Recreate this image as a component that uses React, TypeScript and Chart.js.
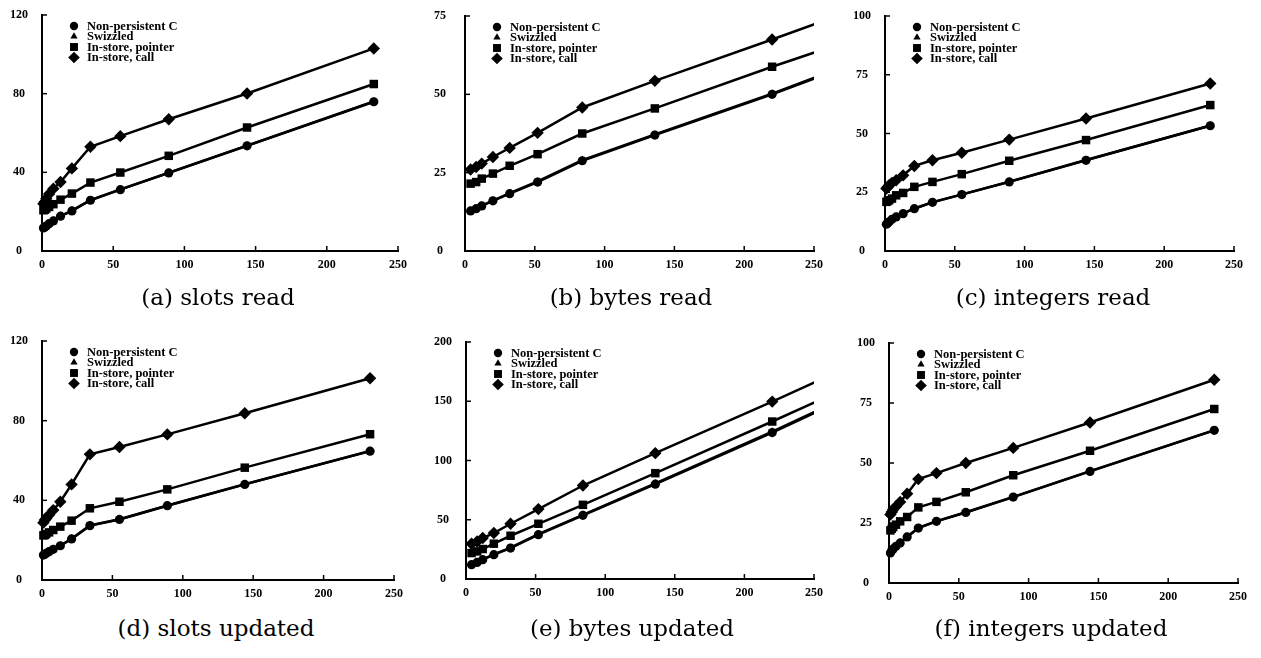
import React, { useEffect, useRef } from 'react';
import { Chart, registerables } from 'chart.js';
import { drawPoint } from 'chart.js/helpers';

Chart.register(...registerables);

// ---------- data ----------
const SERIES_LABELS = ['Non-persistent C', 'Swizzled', 'In-store, pointer', 'In-store, call'];
const POINT_STYLES = ['circle', 'triangle', 'rect', 'rectRot'];
const CAPTIONS = ['(a) slots read', '(b) bytes read', '(c) integers read', '(d) slots updated', '(e) bytes updated', '(f) integers updated'];

const SLOT_X = [1, 2, 3, 5, 8, 13, 21, 34, 55, 89, 144, 233];
const BYTE_X = [4, 8, 12, 20, 32, 52, 84, 136, 220, 356];
const X_TICKS = [0, 50, 100, 150, 200, 250];

// (a) slots read
const slotsReadNonPersistent = [11.7, 12.2, 12.7, 13.9, 15.3, 17.7, 20.4, 25.8, 31.2, 39.7, 53.5, 75.9];
const slotsReadSwizzled = [11.8, 12.3, 12.8, 14.0, 15.4, 17.8, 20.5, 25.9, 31.3, 39.8, 53.6, 76.0];
const slotsReadPointer = [20.7, 21.0, 21.6, 22.4, 23.8, 26.1, 29.2, 34.8, 39.9, 48.4, 62.8, 84.9];
const slotsReadCall = [24.0, 25.0, 26.6, 29.0, 31.7, 35.1, 42.0, 53.0, 58.4, 67.0, 80.1, 103.0];

// (b) bytes read
const bytesReadNonPersistent = [12.8, 13.5, 14.4, 16.0, 18.3, 22.0, 28.8, 37.0, 50.0, 72.7];
const bytesReadSwizzled = [12.9, 13.6, 14.5, 16.1, 18.5, 22.2, 29.0, 37.2, 50.2, 73.0];
const bytesReadPointer = [21.5, 22.0, 23.1, 24.7, 27.2, 30.9, 37.5, 45.5, 58.8, 79.2];
const bytesReadCall = [26.0, 26.8, 27.9, 30.0, 32.9, 37.7, 45.8, 54.3, 67.5, 89.3];

// (c) integers read
const intsReadNonPersistent = [11.4, 11.9, 12.4, 13.5, 14.5, 15.9, 18.0, 20.7, 24.0, 29.4, 38.6, 53.3];
const intsReadSwizzled = [11.5, 12.0, 12.5, 13.6, 14.6, 16.0, 18.1, 20.8, 24.1, 29.5, 38.7, 53.4];
const intsReadPointer = [20.9, 21.3, 21.6, 22.3, 23.7, 24.7, 27.3, 29.4, 32.7, 38.4, 47.2, 62.1];
const intsReadCall = [26.6, 27.3, 28.0, 29.0, 30.1, 32.2, 36.2, 38.6, 41.8, 47.4, 56.4, 71.3];

// (d) slots updated
const slotsUpdNonPersistent = [12.5, 12.9, 13.4, 14.2, 15.4, 17.2, 20.6, 27.3, 30.4, 37.3, 48.0, 64.7];
const slotsUpdSwizzled = [12.6, 13.0, 13.5, 14.3, 15.5, 17.3, 20.7, 27.4, 30.5, 37.4, 48.1, 64.8];
const slotsUpdPointer = [22.4, 22.6, 23.1, 23.9, 25.1, 26.8, 29.8, 36.0, 39.3, 45.5, 56.4, 73.2];
const slotsUpdCall = [28.8, 30.1, 30.9, 32.6, 35.1, 39.3, 48.0, 63.1, 66.8, 73.1, 83.7, 101.3];

// (e) bytes updated
const bytesUpdNonPersistent = [12.1, 14.0, 16.3, 20.5, 26.1, 37.4, 53.7, 80.0, 123.6, 197.5];
const bytesUpdSwizzled = [12.3, 14.2, 16.5, 20.8, 26.4, 37.8, 54.2, 80.6, 124.4, 198.6];
const bytesUpdPointer = [21.9, 23.3, 25.3, 29.8, 36.5, 46.6, 62.6, 89.3, 132.9, 205.4];
const bytesUpdCall = [29.8, 31.7, 34.6, 38.8, 46.6, 59.0, 78.9, 106.2, 149.7, 222.2];

// (f) integers updated
const intsUpdNonPersistent = [12.5, 13.5, 14.2, 15.3, 16.7, 19.2, 22.9, 25.7, 29.4, 35.8, 46.5, 63.6];
const intsUpdSwizzled = [12.6, 13.6, 14.3, 15.4, 16.8, 19.3, 23.0, 25.8, 29.5, 35.9, 46.6, 63.7];
const intsUpdPointer = [21.9, 22.6, 23.3, 24.3, 25.7, 27.5, 31.5, 33.8, 37.8, 44.9, 55.1, 72.5];
const intsUpdCall = [28.5, 29.6, 30.6, 31.9, 33.8, 37.2, 43.3, 45.8, 50.0, 56.3, 66.9, 84.7];

const Y_MAX = [120, 75, 100, 120, 200, 100];
const Y_STEP = [40, 25, 25, 40, 50, 25];

// ---------- layout (plot area in page pixels) ----------
const PANELS = [
  { L: 42, R: 398, T: 15, B: 251 },
  { L: 465, R: 814, T: 16, B: 251 },
  { L: 885, R: 1234, T: 16, B: 251 },
  { L: 42, R: 394, T: 341, B: 580 },
  { L: 466, R: 814, T: 342, B: 579 },
  { L: 889, R: 1238, T: 343, B: 583 },
];
const CAPTION_POS = [
  { cx: 218, cy: 297 },
  { cx: 631, cy: 297 },
  { cx: 1053, cy: 297 },
  { cx: 216, cy: 628 },
  { cx: 632, cy: 628 },
  { cx: 1051, cy: 628 },
];

const PANEL_DATA = [
  { xs: SLOT_X, series: [slotsReadNonPersistent, slotsReadSwizzled, slotsReadPointer, slotsReadCall] },
  { xs: BYTE_X, series: [bytesReadNonPersistent, bytesReadSwizzled, bytesReadPointer, bytesReadCall] },
  { xs: SLOT_X, series: [intsReadNonPersistent, intsReadSwizzled, intsReadPointer, intsReadCall] },
  { xs: SLOT_X, series: [slotsUpdNonPersistent, slotsUpdSwizzled, slotsUpdPointer, slotsUpdCall] },
  { xs: BYTE_X, series: [bytesUpdNonPersistent, bytesUpdSwizzled, bytesUpdPointer, bytesUpdCall] },
  { xs: SLOT_X, series: [intsUpdNonPersistent, intsUpdSwizzled, intsUpdPointer, intsUpdCall] },
];

const PAD_L = 45;
const PAD_T = 32;
const PAD_R = 24;
const PAD_B = 32;
const POINT_RADII = [4.6, 4.4, 6.0, 6.2];
const LEGEND_RADII = [4.2, 4.2, 5.6, 5.8];
const TICK_FONT = { family: '"Liberation Serif", serif', size: 12, weight: 'bold' as const };
const LEGEND_FONT = 'bold 12.5px "Liberation Serif", serif';

const insideLegendAndTicks = {
  id: 'insideLegendAndTicks',
  afterDraw(chart: any) {
    const { ctx, chartArea, scales } = chart;
    ctx.save();
    // inward tick marks
    ctx.strokeStyle = '#000';
    ctx.lineWidth = 1.5;
    const ys = scales.y;
    ys.ticks.forEach((_t: any, i: number) => {
      const y = ys.getPixelForTick(i);
      ctx.beginPath();
      ctx.moveTo(chartArea.left, y);
      ctx.lineTo(chartArea.left + 5, y);
      ctx.stroke();
    });
    const xs = scales.x;
    xs.ticks.forEach((_t: any, i: number) => {
      const x = xs.getPixelForTick(i);
      ctx.beginPath();
      ctx.moveTo(x, chartArea.bottom);
      ctx.lineTo(x, chartArea.bottom - 5);
      ctx.stroke();
    });
    // legend
    ctx.fillStyle = '#000';
    ctx.font = LEGEND_FONT;
    ctx.textBaseline = 'middle';
    ctx.textAlign = 'left';
    chart.data.datasets.forEach((ds: any, i: number) => {
      const y = chartArea.top + 11 + i * 10.5;
      const x = chartArea.left + 32;
      ctx.fillStyle = '#000';
      drawPoint(ctx, { pointStyle: ds.pointStyle, radius: LEGEND_RADII[i], rotation: 0, borderWidth: 0 }, x, y);
      ctx.fillText(ds.label, chartArea.left + 45, y + 0.5);
    });
    ctx.restore();
  },
};

function Panel({ index }: { index: number }) {
  const ref = useRef<HTMLCanvasElement>(null);
  const p = PANELS[index];
  const width = p.R - p.L + PAD_L + PAD_R;
  const height = p.B - p.T + PAD_T + PAD_B;

  useEffect(() => {
    const canvas = ref.current;
    if (!canvas) return;
    const d = PANEL_DATA[index];
    const yMax = Y_MAX[index];
    const threeDigit = yMax >= 100;
    const datasets = d.series.map((vals, si) => ({
      label: SERIES_LABELS[si],
      data: d.xs.map((x, k) => ({ x, y: vals[k] })),
      showLine: true,
      borderColor: '#000',
      backgroundColor: '#000',
      borderWidth: 2.5,
      pointStyle: POINT_STYLES[si],
      pointRadius: POINT_RADII[si],
      pointBorderWidth: 0,
      pointBackgroundColor: '#000',
      tension: 0,
      clip: { left: 10, top: 10, bottom: 10, right: d.xs === BYTE_X ? 0 : 10 },
      order: 4 - si,
    }));
    const chart = new Chart(canvas, {
      type: 'scatter',
      data: { datasets },
      options: {
        animation: false,
        responsive: false,
        devicePixelRatio: 1,
        layout: { padding: { left: 0, top: PAD_T, right: PAD_R, bottom: 0 } },
        plugins: { legend: { display: false }, tooltip: { enabled: false }, title: { display: false } },
        scales: {
          x: {
            type: 'linear',
            min: 0,
            max: 250,
            afterBuildTicks: (s: any) => { s.ticks = X_TICKS.map((v) => ({ value: v })); },
            afterFit: (s: any) => { s.height = PAD_B; },
            grid: { display: true, drawOnChartArea: false, drawTicks: false },
            border: { display: true, color: '#000', width: 2 },
            ticks: { color: '#000', font: TICK_FONT, padding: 7, maxRotation: 0, autoSkip: false },
          },
          y: {
            type: 'linear',
            min: 0,
            max: yMax,
            ticks: {
              stepSize: Y_STEP[index],
              color: '#000',
              font: TICK_FONT,
              crossAlign: 'center',
              padding: threeDigit ? 14 : 19,
            },
            afterFit: (s: any) => { s.width = PAD_L; },
            grid: { display: true, drawOnChartArea: false, drawTicks: false },
            border: { display: true, color: '#000', width: 2 },
          },
        },
      },
      plugins: [insideLegendAndTicks],
    } as any);
    return () => chart.destroy();
  }, [index]);

  return (
    <canvas
      ref={ref}
      width={width}
      height={height}
      style={{ position: 'absolute', left: p.L - PAD_L, top: p.T - PAD_T, width, height }}
    />
  );
}

export default function App() {
  return (
    <div style={{ position: 'absolute', left: 0, top: 0, width: 1261, height: 658, background: '#fff', overflow: 'hidden' }}>
      {PANELS.map((_, i) => (
        <Panel key={i} index={i} />
      ))}
      {CAPTIONS.map((c, i) => (
        <div
          key={c}
          style={{
            position: 'absolute',
            left: CAPTION_POS[i].cx - 150,
            top: CAPTION_POS[i].cy - 15,
            width: 300,
            height: 30,
            lineHeight: '30px',
            textAlign: 'center',
            fontFamily: '"DejaVu Serif", serif',
            fontSize: 23,
            color: '#000',
            whiteSpace: 'nowrap',
          }}
        >
          {c}
        </div>
      ))}
    </div>
  );
}
